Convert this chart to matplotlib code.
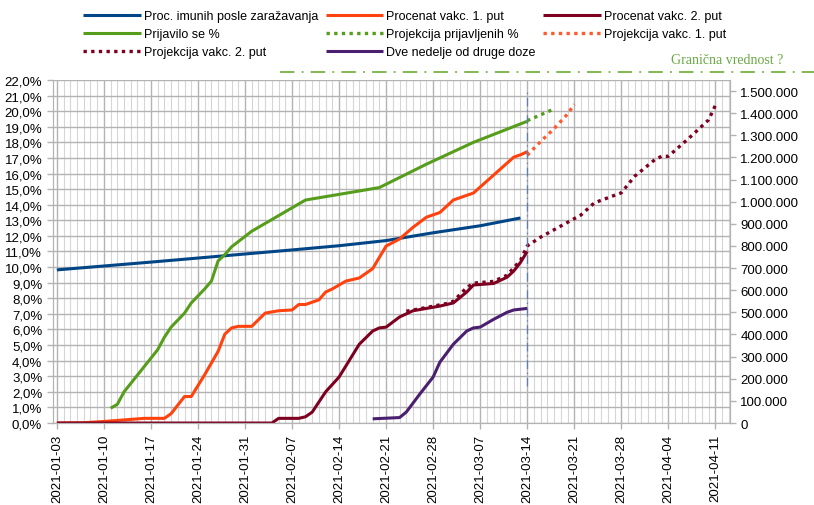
import pandas as pd
import matplotlib
matplotlib.use("Agg")
import matplotlib.pyplot as plt
import matplotlib.dates as mdates
from matplotlib.lines import Line2D
from matplotlib.ticker import FuncFormatter, MultipleLocator

plt.rcParams["font.family"] = ["Liberation Sans", "DejaVu Sans"]
plt.rcParams["font.size"] = 9

# --- values ---
imuni_dates = ["2021-01-03", "2021-01-10", "2021-01-17", "2021-01-24", "2021-01-31",
               "2021-02-07", "2021-02-14", "2021-02-21", "2021-02-28", "2021-03-07",
               "2021-03-13"]
imuni_pct = [9.82, 10.07, 10.32, 10.58, 10.84, 11.1, 11.37, 11.7, 12.2, 12.65, 13.15]

vakc1_dates = ["2021-01-03", "2021-01-07", "2021-01-10", "2021-01-13", "2021-01-16",
               "2021-01-19", "2021-01-20", "2021-01-22", "2021-01-23", "2021-01-25",
               "2021-01-27", "2021-01-28", "2021-01-29", "2021-01-30", "2021-02-01",
               "2021-02-03", "2021-02-05", "2021-02-07", "2021-02-08", "2021-02-09",
               "2021-02-11", "2021-02-12", "2021-02-13", "2021-02-15", "2021-02-17",
               "2021-02-19", "2021-02-21", "2021-02-23", "2021-02-25", "2021-02-27",
               "2021-03-01", "2021-03-03", "2021-03-06", "2021-03-09", "2021-03-12",
               "2021-03-13", "2021-03-14"]
vakc1_pct = [0.0, 0.02, 0.1, 0.2, 0.3, 0.3, 0.6, 1.7, 1.7, 3.1, 4.6, 5.7, 6.1, 6.2, 6.2,
             7.05, 7.2, 7.25, 7.6, 7.6, 7.9, 8.4, 8.6, 9.1, 9.3, 9.9, 11.35, 11.8, 12.55,
             13.2, 13.5, 14.3, 14.75, 15.9, 17.05, 17.2, 17.4]

vakc2_dates = ["2021-01-03", "2021-02-04", "2021-02-05", "2021-02-08", "2021-02-09",
               "2021-02-10", "2021-02-12", "2021-02-14", "2021-02-17", "2021-02-19",
               "2021-02-20", "2021-02-21", "2021-02-23", "2021-02-25", "2021-02-27",
               "2021-03-01", "2021-03-03", "2021-03-05", "2021-03-06", "2021-03-09",
               "2021-03-11", "2021-03-12", "2021-03-13", "2021-03-14"]
vakc2_pct = [0.0, 0.0, 0.3, 0.3, 0.4, 0.7, 2.0, 2.95, 5.05, 5.9, 6.1, 6.15, 6.8, 7.2,
             7.35, 7.5, 7.7, 8.4, 8.85, 8.95, 9.35, 9.75, 10.3, 11.0]

prijava_dates = ["2021-01-11", "2021-01-12", "2021-01-13", "2021-01-18", "2021-01-19",
                 "2021-01-20", "2021-01-22", "2021-01-23", "2021-01-25", "2021-01-26",
                 "2021-01-27", "2021-01-28", "2021-01-29", "2021-02-01", "2021-02-03",
                 "2021-02-05", "2021-02-09", "2021-02-20", "2021-02-27", "2021-03-06",
                 "2021-03-14"]
prijava_pct = [0.95, 1.2, 2.0, 4.7, 5.5, 6.15, 7.05, 7.7, 8.6, 9.1, 10.4, 10.8, 11.3,
               12.3, 12.8, 13.3, 14.3, 15.1, 16.6, 18.0, 19.35]

dve_ned_dates = ["2021-02-19", "2021-02-23", "2021-02-24", "2021-02-26", "2021-02-28",
                 "2021-03-01", "2021-03-03", "2021-03-05", "2021-03-06", "2021-03-07",
                 "2021-03-09", "2021-03-11", "2021-03-12", "2021-03-14"]
dve_ned_pct = [0.27, 0.35, 0.7, 1.85, 2.95, 3.9, 5.05, 5.9, 6.1, 6.15, 6.65, 7.1, 7.25, 7.35]

# projections are in absolute numbers (right axis)
proj_prijava_dates = ["2021-03-14", "2021-03-18"]
proj_prijava = [1366000, 1419000]

proj_vakc1_dates = ["2021-03-14", "2021-03-16", "2021-03-18", "2021-03-20", "2021-03-21"]
proj_vakc1 = [1210000, 1272000, 1330000, 1396000, 1440000]

proj_vakc2_dates = ["2021-02-24", "2021-02-27", "2021-03-02", "2021-03-03", "2021-03-05",
                    "2021-03-06", "2021-03-09", "2021-03-11", "2021-03-13", "2021-03-14",
                    "2021-03-16", "2021-03-19", "2021-03-22", "2021-03-24", "2021-03-28",
                    "2021-03-30", "2021-04-02", "2021-04-03", "2021-04-04", "2021-04-07",
                    "2021-04-10", "2021-04-11"]
proj_vakc2 = [505000, 522000, 540000, 550000, 612000, 632000, 640000, 668000, 735000,
              800000, 840000, 890000, 940000, 995000, 1040000, 1115000, 1190000, 1205000,
              1205000, 1285000, 1370000, 1435000]

week_ticks = pd.date_range("2021-01-03", "2021-04-11", freq="7D")
today = "2021-03-14"

BLUE = "#004586"
ORANGE = "#ff420e"
DARKRED = "#7e0021"
GREEN = "#579d1c"
PURPLE = "#4b1f6f"
GRID = "#b3b3b3"


def pct_fmt(v, pos):
    return f"{v:.1f}%".replace(".", ",")


def num_fmt(v, pos):
    return f"{int(round(v)):,}".replace(",", ".")


fig = plt.figure(figsize=(8.14, 5.06), dpi=100)
ax = fig.add_axes([0.0647, 0.162, 0.832, 0.678])
ax2 = ax.twinx()

solid = dict(lw=2.2, solid_joinstyle="round", solid_capstyle="butt")
dotted = dict(lw=2.4, linestyle=(0, (1, 1.3)), dash_capstyle="butt")

l_imuni, = ax.plot(pd.to_datetime(imuni_dates), imuni_pct, color=BLUE, **solid)
l_v1, = ax.plot(pd.to_datetime(vakc1_dates), vakc1_pct, color=ORANGE, **solid)
l_v2, = ax.plot(pd.to_datetime(vakc2_dates), vakc2_pct, color=DARKRED, **solid)
l_prij, = ax.plot(pd.to_datetime(prijava_dates), prijava_pct, color=GREEN, **solid)
l_dve, = ax.plot(pd.to_datetime(dve_ned_dates), dve_ned_pct, color=PURPLE, **solid)

l_pp, = ax2.plot(pd.to_datetime(proj_prijava_dates), proj_prijava, color=GREEN, **dotted)
l_pv1, = ax2.plot(pd.to_datetime(proj_vakc1_dates), proj_vakc1, color="#ff5a2e", **dotted)
l_pv2, = ax2.plot(pd.to_datetime(proj_vakc2_dates), proj_vakc2, color=DARKRED, **dotted)

ax2.axvline(pd.to_datetime(today), ymin=0.108, ymax=0.971, color="#5c7fb3", lw=0.9,
            linestyle=(0, (7, 3, 1, 3)), zorder=5)

x0 = pd.to_datetime("2021-01-03") - pd.Timedelta(hours=15)
x1 = pd.to_datetime("2021-04-13") + pd.Timedelta(hours=4)
ax.set_xlim(x0, x1)
ax.set_ylim(0, 22)
ax2.set_ylim(0, 1550000)

ax.yaxis.set_major_locator(MultipleLocator(1))
ax.yaxis.set_major_formatter(FuncFormatter(pct_fmt))
ax2.yaxis.set_major_formatter(FuncFormatter(num_fmt))
ax2.set_yticks(range(0, 1500001, 100000))

ax.set_xticks(week_ticks)
ax.xaxis.set_major_formatter(mdates.DateFormatter("%Y-%m-%d"))
ax.xaxis.set_minor_locator(mdates.DayLocator())
plt.setp(ax.get_xticklabels(), rotation=90)

ax.grid(True, which="major", color=GRID, lw=1.0)
ax.grid(True, which="minor", axis="x", color="#d6d6d6", lw=0.8)
ax.set_axisbelow(True)

for a in (ax, ax2):
    for s in a.spines.values():
        s.set_color(GRID)
    a.tick_params(colors=GRID, labelcolor="black", length=4, width=1, labelsize=9.5)
ax.tick_params(axis="x", which="minor", length=0)
ax2.spines["top"].set_visible(False)
ax.spines["top"].set_visible(False)

# threshold marker above the plot
fig.add_artist(Line2D([280 / 814, 1.0], [1 - 73 / 506, 1 - 73 / 506], color="#77b342",
                      lw=1.3, linestyle=(0, (8, 4, 1, 4))))
fig.text(783 / 814, 1 - 60 / 506, "Granična vrednost ?", color="#6aa843", ha="right",
         va="center", fontsize=10, family=["Liberation Serif", "DejaVu Serif"])

handles = [l_imuni, l_prij, l_pv2, l_v1, l_pp, l_dve, l_v2, l_pv1]
labels = ["Proc. imunih posle zaražavanja", "Prijavilo se %", "Projekcija vakc. 2. put",
          "Procenat vakc. 1. put", "Projekcija prijavljenih %", "Dve nedelje od druge doze",
          "Procenat vakc. 2. put", "Projekcija vakc. 1. put"]
fig.legend(handles, labels, ncol=3, loc="upper left", bbox_to_anchor=(83 / 814, 0.978),
           frameon=False, fontsize=9, handlelength=4.6, handletextpad=0.25,
           columnspacing=0.6, labelspacing=0.48, borderpad=0, borderaxespad=0)

fig.savefig("out.png", dpi=100)
